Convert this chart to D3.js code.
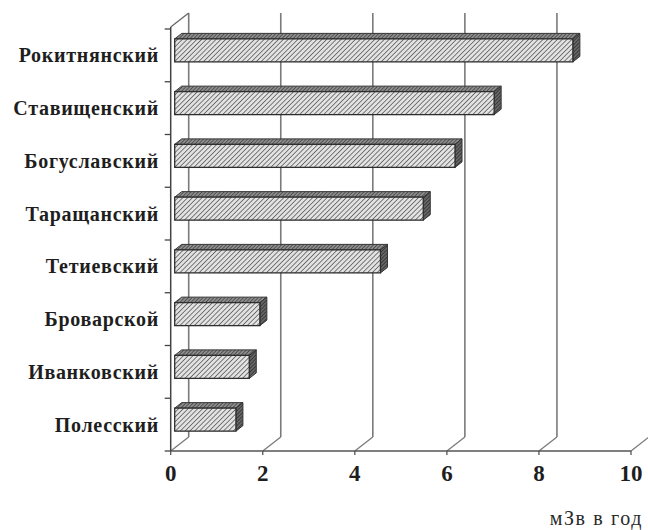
<!DOCTYPE html>
<html>
<head>
<meta charset="utf-8">
<script src="https://cdn.jsdelivr.net/npm/d3@7"></script>
<style>
  body { margin: 0; background: #fff; }
</style>
</head>
<body>
<script>
// Canvas size
var w = 648;
var h = 530;
var serif = "'Liberation Serif', 'Times New Roman', 'DejaVu Serif', serif";

// Data
var districts = ["Рокитнянский", "Ставищенский", "Богуславский", "Таращанский",
                 "Тетиевский", "Броварской", "Иванковский", "Полесский"];
var doses = [8.65, 6.94, 6.09, 5.40, 4.47, 1.85, 1.62, 1.33];
var ticks = [0, 2, 4, 6, 8, 10];
var unitLabel = "мЗв в год";

// 3D look: depth of the floor and of a bar
var depthX = 18, depthY = -14;
var barOffX = 4, barOffY = -5;
var barDX = 7, barDY = -5.5;
var barH = 23;

var x = d3.scaleLinear().domain([0, 10]).range([170.7, 631]);
var y = d3.scaleBand().domain(districts).range([29, 451]);

var svg = d3.select("body").append("svg")
    .attr("width", w)
    .attr("height", h);

// Hatch patterns for the bar faces
var defs = svg.append("defs");
function hatch(id, bg, line, size, sw) {
  var p = defs.append("pattern")
      .attr("id", id)
      .attr("patternUnits", "userSpaceOnUse")
      .attr("width", size)
      .attr("height", size)
      .attr("patternTransform", "rotate(45)");
  p.append("rect").attr("width", size).attr("height", size).attr("fill", bg);
  p.append("line")
      .attr("x1", 0).attr("y1", 0).attr("x2", 0).attr("y2", size)
      .attr("stroke", line).attr("stroke-width", sw);
}
hatch("hFront", "#e2e2e2", "#4a4a4a", 3.4, 1.4);
hatch("hTop", "#8e8e8e", "#2e2e2e", 2.6, 1.2);
hatch("hSide", "#666", "#222", 2.6, 1.2);

var gridColor = "#7a7a7a";
var y0 = y.range()[1];
var yTop = 13;

// Back wall gridlines
svg.selectAll("line.grid")
    .data(ticks)
    .enter().append("line")
    .attr("class", "grid")
    .attr("x1", function(d) { return x(d) + depthX; })
    .attr("x2", function(d) { return x(d) + depthX; })
    .attr("y1", y0 + depthY)
    .attr("y2", yTop)
    .attr("stroke", gridColor)
    .attr("stroke-width", 1.6);

// Floor diagonals
svg.selectAll("line.floor")
    .data(ticks)
    .enter().append("line")
    .attr("class", "floor")
    .attr("x1", function(d) { return x(d); })
    .attr("y1", y0)
    .attr("x2", function(d) { return x(d) + depthX; })
    .attr("y2", y0 + depthY)
    .attr("stroke", gridColor)
    .attr("stroke-width", 1.3);

// Left wall edge: axis line and top diagonal
svg.append("line")
    .attr("x1", x(0)).attr("x2", x(0))
    .attr("y1", y0).attr("y2", y.range()[0] - 2)
    .attr("stroke", "#444").attr("stroke-width", 1.5);
svg.append("line")
    .attr("x1", x(0)).attr("y1", y.range()[0] - 2)
    .attr("x2", x(0) + depthX).attr("y2", y.range()[0] - 2 + depthY)
    .attr("stroke", "#666").attr("stroke-width", 1.3);

// Category ticks on the left axis
var bounds = districts.map(function(d) { return y(d); }).concat([y0]);
svg.selectAll("line.ctick")
    .data(bounds)
    .enter().append("line")
    .attr("class", "ctick")
    .attr("x1", x(0) - 6).attr("x2", x(0))
    .attr("y1", function(d) { return d; })
    .attr("y2", function(d) { return d; })
    .attr("stroke", "#444").attr("stroke-width", 1.3);

// Bottom value axis
svg.append("line")
    .attr("x1", x(0)).attr("x2", x(10))
    .attr("y1", y0).attr("y2", y0)
    .attr("stroke", "#555").attr("stroke-width", 1.6);
svg.selectAll("line.vtick")
    .data(ticks)
    .enter().append("line")
    .attr("class", "vtick")
    .attr("x1", function(d) { return x(d); })
    .attr("x2", function(d) { return x(d); })
    .attr("y1", y0).attr("y2", y0 + 4)
    .attr("stroke", "#555").attr("stroke-width", 1.3);

svg.selectAll("text.vlab")
    .data(ticks)
    .enter().append("text")
    .attr("class", "vlab")
    .attr("x", function(d) { return x(d); })
    .attr("y", 481)
    .attr("text-anchor", "middle")
    .attr("font-family", serif)
    .attr("font-size", 23)
    .attr("font-weight", "bold")
    .attr("fill", "#1e1e1e")
    .text(function(d) { return d; });

// Bars: front, top and side faces
var bars = svg.selectAll("g.bar")
    .data(doses)
    .enter().append("g")
    .attr("class", "bar");

function faces(d, i) {
  var cy = y(districts[i]) + y.bandwidth() / 2 + barOffY;
  var xa = x(0) + barOffX, xb = x(d) + barOffX;
  return { xa: xa, xb: xb, top: cy - barH / 2, bot: cy + barH / 2 };
}

bars.append("polygon")
    .attr("points", function(d, i) {
      var f = faces(d, i);
      return [[f.xa, f.top], [f.xa + barDX, f.top + barDY],
              [f.xb + barDX, f.top + barDY], [f.xb, f.top]].join(" ");
    })
    .attr("fill", "url(#hTop)")
    .attr("stroke", "#333").attr("stroke-width", 1);

bars.append("polygon")
    .attr("points", function(d, i) {
      var f = faces(d, i);
      return [[f.xb, f.top], [f.xb + barDX, f.top + barDY],
              [f.xb + barDX, f.bot + barDY], [f.xb, f.bot]].join(" ");
    })
    .attr("fill", "url(#hSide)")
    .attr("stroke", "#333").attr("stroke-width", 1);

bars.append("rect")
    .attr("x", function(d, i) { return faces(d, i).xa; })
    .attr("y", function(d, i) { return faces(d, i).top; })
    .attr("width", function(d, i) { var f = faces(d, i); return f.xb - f.xa; })
    .attr("height", barH)
    .attr("fill", "url(#hFront)")
    .attr("stroke", "#2e2e2e").attr("stroke-width", 1.3);

// District names
svg.selectAll("text.clab")
    .data(districts)
    .enter().append("text")
    .attr("class", "clab")
    .attr("x", 159)
    .attr("y", function(d) { return y(d) + y.bandwidth() / 2 + 7; })
    .attr("text-anchor", "end")
    .attr("font-family", serif)
    .attr("font-size", 20)
    .attr("font-weight", "bold")
    .attr("fill", "#1e1e1e")
    .attr("letter-spacing", 0.7)
    .text(function(d) { return d; });

// Unit caption
svg.append("text")
    .attr("x", 643)
    .attr("y", 525)
    .attr("text-anchor", "end")
    .attr("font-family", serif)
    .attr("font-size", 20)
    .attr("fill", "#2a2a2a")
    .attr("letter-spacing", 1.6)
    .text(unitLabel);
</script>
</body>
</html>
